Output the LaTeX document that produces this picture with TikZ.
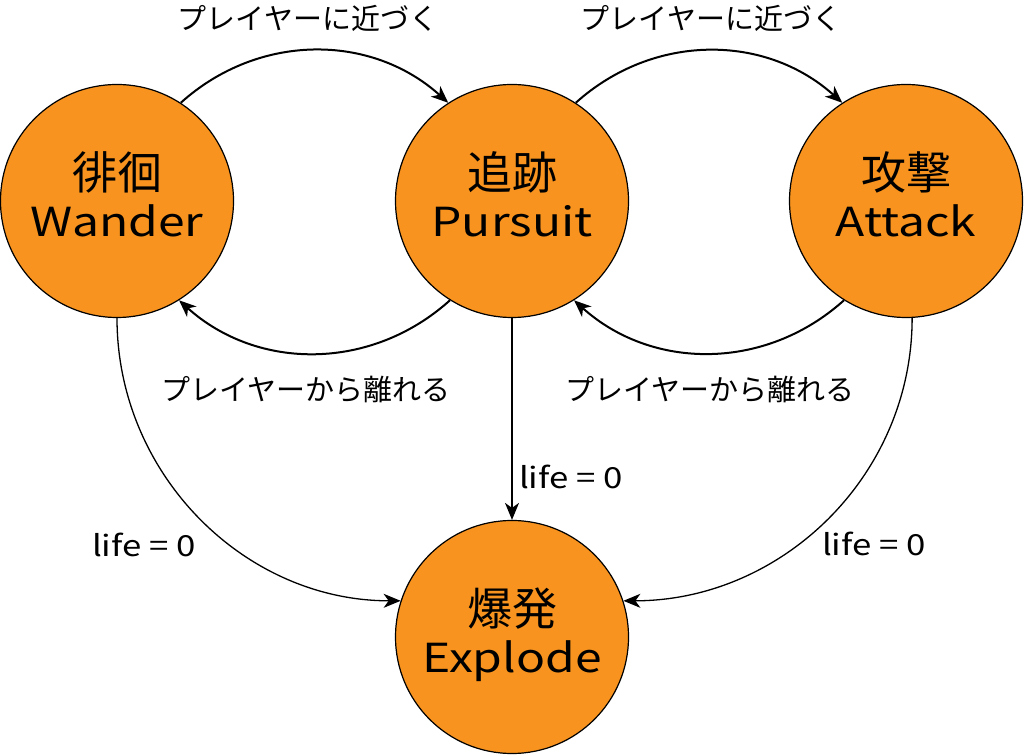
\documentclass[tikz,border=0pt]{standalone}
\usepackage{fontspec}
\setmainfont{Noto Sans CJK JP}
\newfontfamily\latinw[FakeStretch=1.2]{Noto Sans CJK JP}
\usetikzlibrary{arrows.meta}
\definecolor{orng}{HTML}{F7931E}
\newcommand{\kj}[1]{{\fontsize{45}{47}\selectfont #1}}
\newcommand{\lt}[1]{{\latinw #1}}
\begin{document}
\begin{tikzpicture}[x=1pt,y=1pt,
  state/.style={circle,draw=black,line width=1.2pt,fill=orng,minimum size=233pt,
    inner sep=0pt,align=center,text height=72pt,text depth=0pt,
    font=\fontsize{40}{47}\selectfont},
  tipb/.style={-{Stealth[length=17pt,width=14pt,inset=5pt]}},
  trans/.style={line width=2pt,tipb},
  lifearr/.style={line width=1.3pt,tipb},
  lbl/.style={font=\fontsize{29}{32}\selectfont,inner sep=0pt}]
\useasboundingbox (0,0) rectangle (1024,754);
\node[state] (w) at (117,553) {\kj{徘徊}\\\lt{Wander}};
\node[state] (p) at (512,553) {\kj{追跡}\\\lt{Pursuit}};
\node[state] (a) at (906,553) {\kj{攻撃}\\\lt{Attack}};
\node[state] (e) at (512,117) {\kj{爆発}\\\lt{Explode}};

\draw[trans] (w.57) to[bend left=42] (p.123);
\draw[trans] (p.238) to[bend left=42] (w.302);
\draw[trans] (p.57) to[bend left=42] (a.123);
\draw[trans] (a.238) to[bend left=42] (p.302);

\draw[lifearr] (w.270) to[out=-90,in=180] (e.162);
\draw[lifearr] (p.270) -- (e.90);
\draw[lifearr] (a.273) to[out=-90,in=0] (e.18);

\node[lbl] (t1) at (308,736) {プレイヤーに近づく};
\node[lbl] (t2) at (711,736) {プレイヤーに近づく};
\node[lbl] (t3) at (306,364) {プレイヤーから離れる};
\node[lbl] (t4) at (710,364) {プレイヤーから離れる};
\node[lbl] (l1) at (144,209) {\lt{life = 0}};
\node[lbl] (l2) at (571,277) {\lt{life = 0}};
\node[lbl] (l3) at (874,210) {\lt{life = 0}};
\end{tikzpicture}
\end{document}
